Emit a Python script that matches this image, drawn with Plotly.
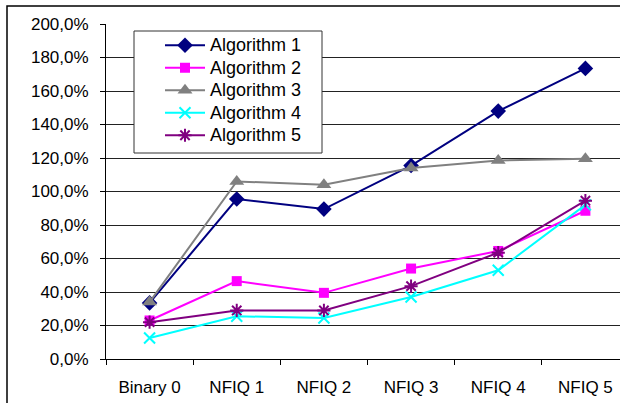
import plotly.graph_objects as go

categories = ["Binary 0", "NFIQ 1", "NFIQ 2", "NFIQ 3", "NFIQ 4", "NFIQ 5"]
alg1 = [33.5, 95.5, 89.5, 115.5, 148.0, 173.5]
alg2 = [23.0, 46.5, 39.5, 54.0, 64.5, 88.5]
alg3 = [34.0, 106.0, 104.0, 114.0, 118.5, 119.5]
alg4 = [12.5, 25.5, 24.5, 37.0, 53.0, 92.0]
alg5 = [22.0, 29.0, 29.0, 43.5, 63.5, 94.5]
names = ["Algorithm 1", "Algorithm 2", "Algorithm 3", "Algorithm 4", "Algorithm 5"]
y_ticks = [0, 20, 40, 60, 80, 100, 120, 140, 160, 180, 200]
y_ticktext = [f"{v},0%" for v in y_ticks]

series = [
    (names[0], alg1, "#000080", "diamond", 12, None),
    (names[1], alg2, "#FF00FF", "square", 10, None),
    (names[2], alg3, "#808080", "triangle-up", 13, None),
    (names[3], alg4, "#00FFFF", "x-thin", 11, 2),
    (names[4], alg5, "#800080", "asterisk", 11, 2),
]

fig = go.Figure()
for name, vals, color, sym, size, lw in series:
    marker = dict(symbol=sym, size=size, color=color)
    if lw:
        marker["line"] = dict(color=color, width=lw)
    fig.add_trace(go.Scatter(
        x=categories, y=vals,
        name=f"<span style='font-size:18px'>{name}</span>",
        mode="lines+markers",
        line=dict(color=color, width=2), marker=marker, cliponaxis=False,
    ))

W, H = 620, 403
L, R, T, B = 106, 0, 24, 44
PW, PH = W - L - R, H - T - B


def px_x(p):
    return (p - L) / PW


def px_y(p):
    return (H - B - p) / PH


fig.update_layout(
    width=W, height=H,
    margin=dict(l=L, r=R, t=T, b=B, pad=0),
    paper_bgcolor="white", plot_bgcolor="white",
    font=dict(family="Liberation Sans, Arial, sans-serif", size=17, color="black"),
    showlegend=True,
    legend=dict(
        x=px_x(160), y=px_y(29),
        xanchor="left", yanchor="top",
        bgcolor="rgba(0,0,0,0)", borderwidth=0,
        font=dict(size=15, color="black"),
        tracegroupgap=0, itemwidth=40,
    ),
    xaxis=dict(
        type="category", range=[-0.5, 5.397],
        showgrid=False, showline=True, linecolor="black", linewidth=1,
        ticks="outside", tickson="boundaries", ticklen=5, tickcolor="black",
        ticklabelstandoff=13, tickfont=dict(size=17),
    ),
    yaxis=dict(
        range=[0, 200], tickvals=y_ticks, ticktext=y_ticktext,
        showgrid=True, gridcolor="#222222", gridwidth=1,
        showline=True, linecolor="black", linewidth=1,
        ticks="outside", ticklen=5, tickcolor="black",
        ticklabelstandoff=8, zeroline=False, tickfont=dict(size=17),
    ),
    shapes=[
        dict(
            type="rect", xref="paper", yref="paper",
            x0=px_x(7), x1=1.3, y0=-0.5, y1=px_y(6),
            line=dict(color="black", width=1.5), layer="below",
        ),
        dict(
            type="rect", xref="paper", yref="paper",
            x0=px_x(134), x1=px_x(322), y0=px_y(153), y1=px_y(31),
            line=dict(color="#333333", width=1), fillcolor="white", layer="above",
        ),
    ],
)

fig.write_html(
    "out.html",
    config={"displayModeBar": False},
    post_script="document.body.style.margin='0';document.body.style.overflow='hidden';",
)
